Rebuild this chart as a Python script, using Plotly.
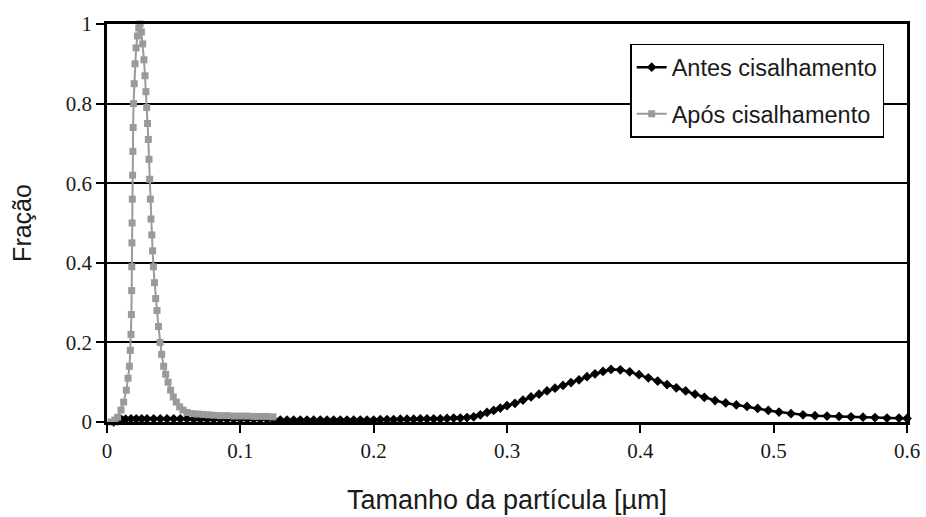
import plotly.graph_objects as go

# ---- Data ----
x_antes = [0.005, 0.008, 0.011, 0.014, 0.018, 0.022, 0.026, 0.03, 0.035, 0.04, 0.045, 0.05, 0.055, 0.06,
           0.065, 0.07, 0.075, 0.08, 0.085, 0.09, 0.095, 0.1, 0.105, 0.11, 0.115, 0.12, 0.125, 0.13, 0.135,
           0.14, 0.145, 0.15, 0.155, 0.16, 0.165, 0.17, 0.175, 0.18, 0.185, 0.19, 0.195, 0.2, 0.205, 0.21,
           0.215, 0.22, 0.225, 0.23, 0.235, 0.24, 0.245, 0.25, 0.255, 0.26, 0.265, 0.27, 0.275, 0.28, 0.285,
           0.29, 0.295, 0.3, 0.306, 0.312, 0.318, 0.324, 0.33, 0.336, 0.342, 0.348, 0.354, 0.36, 0.366, 0.372,
           0.378, 0.385, 0.392, 0.399, 0.406, 0.413, 0.42, 0.427, 0.434, 0.441, 0.448, 0.456, 0.464, 0.472,
           0.48, 0.488, 0.496, 0.504, 0.513, 0.522, 0.531, 0.54, 0.549, 0.558, 0.567, 0.576, 0.585, 0.594, 0.6]
y_antes = [0.0, 0.003, 0.006, 0.007, 0.008, 0.008, 0.008, 0.008, 0.008, 0.008, 0.008, 0.008, 0.008, 0.008,
           0.007, 0.007, 0.007, 0.007, 0.007, 0.007, 0.007, 0.007, 0.007, 0.007, 0.007, 0.007, 0.005, 0.005, 0.005,
           0.005, 0.005, 0.005, 0.005, 0.005, 0.005, 0.005, 0.005, 0.005, 0.005, 0.005, 0.005, 0.005, 0.006, 0.006,
           0.006, 0.007, 0.007, 0.007, 0.008, 0.008, 0.008, 0.008, 0.009, 0.01, 0.01, 0.011, 0.013, 0.018, 0.024,
           0.029, 0.035, 0.041, 0.047, 0.055, 0.063, 0.07, 0.078, 0.085, 0.092, 0.099, 0.106, 0.114, 0.121, 0.127,
           0.132, 0.131, 0.126, 0.119, 0.111, 0.103, 0.094, 0.086, 0.078, 0.07, 0.062, 0.054, 0.048, 0.043,
           0.039, 0.034, 0.029, 0.025, 0.021, 0.018, 0.016, 0.015, 0.014, 0.013, 0.012, 0.011, 0.01, 0.01, 0.009]

x_apos = [0.003, 0.006, 0.008, 0.0105, 0.0125, 0.0145, 0.0158, 0.0168, 0.0175, 0.018, 0.0183, 0.0185, 0.0186,
          0.0187, 0.0188, 0.019, 0.0192, 0.0194, 0.0196, 0.0199, 0.0204, 0.021, 0.0218, 0.0228, 0.0238, 0.0248,
          0.0258, 0.0268, 0.0277, 0.0285, 0.0292, 0.0298, 0.0304, 0.031, 0.0315, 0.032, 0.0325, 0.033, 0.0336,
          0.0342, 0.0348, 0.0356, 0.0365, 0.0375, 0.0386, 0.0398, 0.041, 0.0425, 0.044, 0.0458, 0.0477, 0.0497,
          0.052, 0.0545, 0.057, 0.06, 0.064, 0.068, 0.072, 0.076, 0.08, 0.085, 0.09, 0.095, 0.1, 0.105, 0.11,
          0.115, 0.12, 0.1245]
y_apos = [0.0, 0.005, 0.012, 0.03, 0.05, 0.08, 0.11, 0.14, 0.18, 0.22, 0.27, 0.33, 0.39,
          0.45, 0.5, 0.56, 0.62, 0.68, 0.74, 0.8, 0.85, 0.9, 0.94, 0.97, 0.99, 1.0,
          0.98, 0.95, 0.91, 0.87, 0.83, 0.79, 0.75, 0.71, 0.66, 0.61, 0.56, 0.51, 0.47,
          0.43, 0.39, 0.35, 0.31, 0.28, 0.24, 0.2, 0.17, 0.14, 0.12, 0.1, 0.08, 0.063,
          0.05, 0.038, 0.03, 0.024, 0.021, 0.02, 0.019, 0.018, 0.017, 0.016, 0.016, 0.015, 0.015, 0.015, 0.014,
          0.014, 0.014, 0.013]

x_ticks = [0, 0.1, 0.2, 0.3, 0.4, 0.5, 0.6]
x_tick_labels = ["0", "0.1", "0.2", "0.3", "0.4", "0.5", "0.6"]
y_ticks = [0, 0.2, 0.4, 0.6, 0.8, 1]
y_tick_labels = ["0", "0.2", "0.4", "0.6", "0.8", "1"]

name_antes = "Antes cisalhamento"
name_apos = "Após cisalhamento"

# ---- Figure ----
fig = go.Figure()
fig.add_trace(go.Scatter(
    x=x_antes, y=y_antes, name=name_antes, mode="lines+markers",
    line=dict(color="#000000", width=2.5),
    marker=dict(symbol="diamond", size=7.5, color="#000000"),
    cliponaxis=False, legendgroup="a",
))
fig.add_trace(go.Scatter(
    x=x_apos, y=y_apos, name=name_apos, mode="lines+markers",
    line=dict(color="#9a9a9a", width=2),
    marker=dict(symbol="square", size=7, color="#9a9a9a"),
    cliponaxis=False, legendgroup="b",
))

tick_font = dict(family="Liberation Serif", size=21, color="#1a1a1a")

fig.update_layout(
    width=926, height=517,
    margin=dict(l=107, r=19, t=24, b=95),
    paper_bgcolor="white", plot_bgcolor="white",
    showlegend=True,
    legend=dict(
        x=0.654, y=0.95, xanchor="left", yanchor="top",
        bgcolor="white", bordercolor="#000000", borderwidth=1.5,
        font=dict(family="Liberation Sans", size=23.5, color="#1a1a1a"),
        tracegroupgap=13,
    ),
    xaxis=dict(
        range=[0, 0.6], tickvals=x_ticks, ticktext=x_tick_labels,
        showgrid=False, zeroline=False, automargin=False,
        showline=True, linecolor="#000000", linewidth=2.5, mirror=True,
        ticks="outside", ticklen=8, tickwidth=2, tickcolor="#000000",
        tickfont=tick_font,
        title=dict(text="Tamanho da partícula [µm]",
                   font=dict(family="Liberation Sans", size=27, color="#1a1a1a"), standoff=29),
    ),
    yaxis=dict(
        range=[0, 1], tickvals=y_ticks, ticktext=y_tick_labels,
        showgrid=True, gridcolor="#000000", gridwidth=1.5, zeroline=False, automargin=False,
        showline=True, linecolor="#000000", linewidth=2.5, mirror=True,
        ticks="outside", ticklen=8, tickwidth=2, tickcolor="#000000",
        tickfont=tick_font,
        title=dict(text="Fração",
                   font=dict(family="Liberation Sans", size=25, color="#1a1a1a"), standoff=28),
    ),
)

fig.write_html("out.html", config={"displayModeBar": False},
               post_script="document.body.style.margin='0';document.body.style.padding='0';")
